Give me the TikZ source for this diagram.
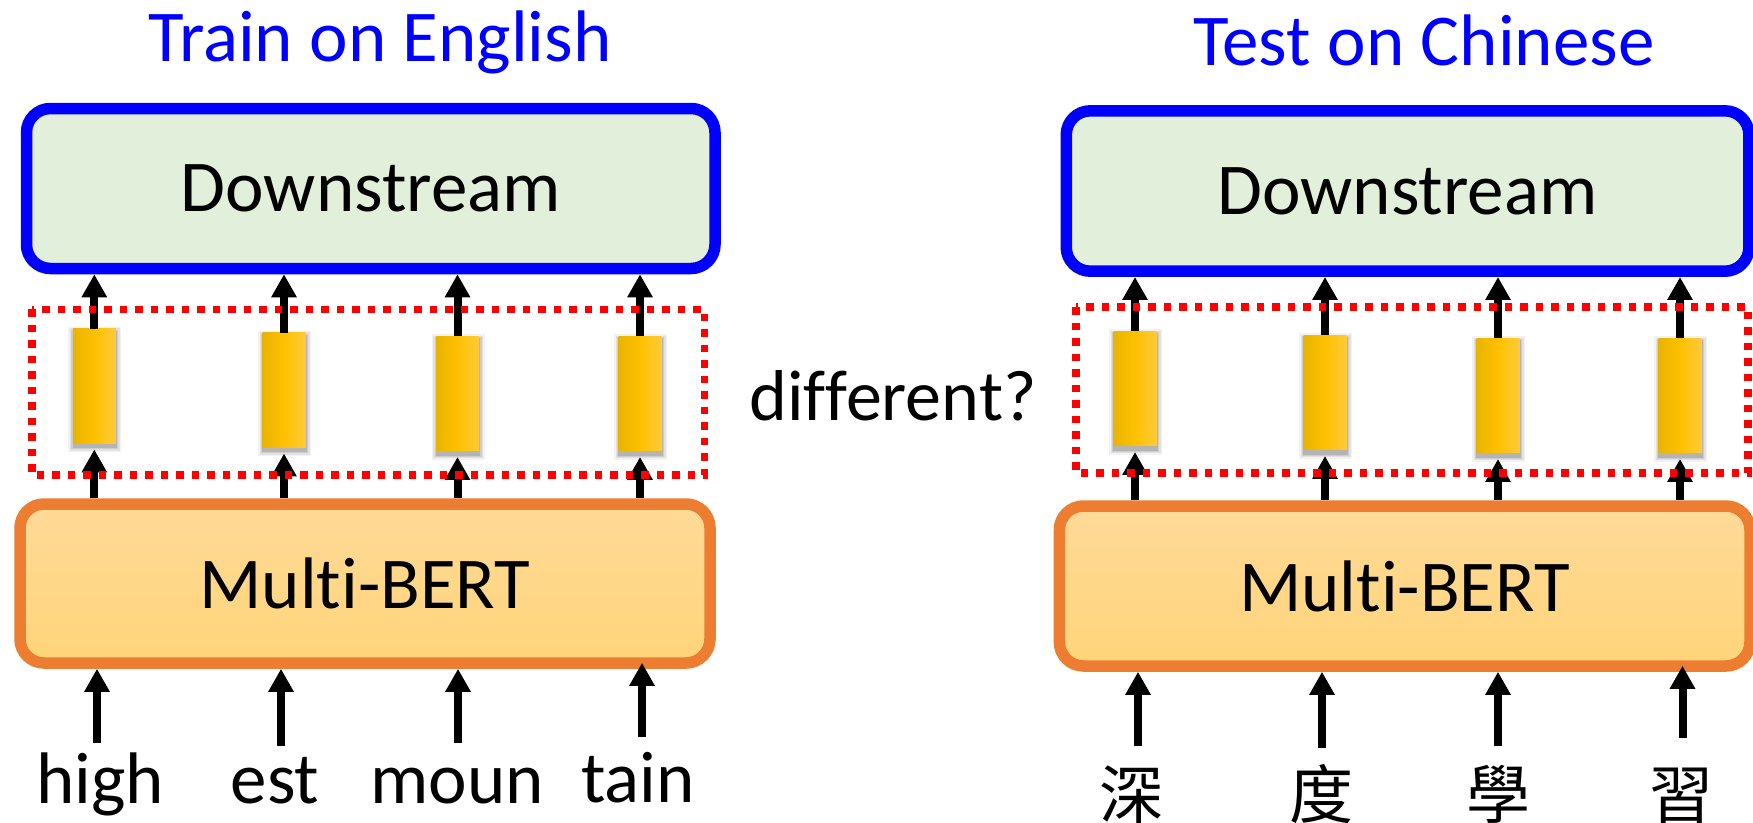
\documentclass[tikz,border=0pt]{standalone}
\usepackage{fontspec}
\setmainfont{Carlito}[Ligatures=NoCommon, RawFeature={-liga;-clig;-calt;-dlig}]
\newfontfamily\cjkfont{Noto Sans CJK TC}
\usetikzlibrary{arrows.meta,calc}

\definecolor{dsblue}{HTML}{0000FF}
\definecolor{dsfill}{HTML}{E2EFDA}
\definecolor{mborange}{HTML}{ED7D31}
\definecolor{mbtop}{HTML}{FFDA98}
\definecolor{mbbot}{HTML}{FFD479}
\definecolor{barL}{HTML}{E8B400}
\definecolor{barM}{HTML}{FFC000}
\definecolor{barR}{HTML}{FFCA3C}

\tikzset{
  big/.style={font=\fontsize{73}{88}\selectfont},
  dsbox/.style={draw=dsblue, fill=dsfill, line width=11.5pt, rounded corners=24pt,
    inner sep=0pt, big},
  mbbox/.style={draw=mborange, top color=mbtop, bottom color=mbbot, line width=11.5pt,
    rounded corners=24pt, inner sep=0pt, big},
  vecbar/.style={minimum width=43pt, minimum height=114.5pt, inner sep=0pt,
    left color=barL, right color=barR, middle color=barM},
  grpbox/.style={draw=red, line width=7.5pt, dash pattern=on 7.5pt off 8pt},
  arr/.style={line width=8pt, -{Triangle[width=24pt,length=23pt]}},
  word/.style={big, anchor=base, inner sep=0pt},
  heading/.style={big, text=dsblue, anchor=base, inner sep=0pt},
  cjkword/.style={anchor=base, inner sep=0pt, font=\fontsize{64}{70}\cjkfont},
}

% a yellow vector with its soft drop shadow: name, x, y
\newcommand\vecnode[3]{%
  \foreach \rr/\oo in {5/0.05,3.5/0.07,2/0.09,0.8/0.12}{%
    \fill[black,opacity=\oo] ({#2-21.5-\rr+0.5},{#3-57.25+3-\rr})
      rectangle ({#2+21.5+\rr+0.5},{#3+57.25+4+\rr});
  }
  \node[vecbar] (#1) at (#2,#3) {};
}

\begin{document}
\begin{tikzpicture}[x=1pt,y=-1pt]
\useasboundingbox (0,0) rectangle (1753,822);

% headings
\node[heading] (hl) at (380,61) {Train on English};
\node[heading] (hr) at (1424,65) {Test on Chinese};

% downstream models
\node[dsbox, minimum width=688.5pt, minimum height=160pt] (dsL) at (370.75,188.5) {Downstream};
\node[dsbox, minimum width=682.7pt, minimum height=160.4pt] (dsR) at (1407.6,191) {Downstream};

% Multi-BERT encoders
\node[mbbox, minimum width=690pt, minimum height=159pt] (mbL) at (365,583.5) {Mult\kern0pt i-BERT};
\node[mbbox, minimum width=690.6pt, minimum height=160pt] (mbR) at (1404.7,586) {Mult\kern0pt i-BERT};

% contextual vectors
\vecnode{vL1}{94.3}{386}
\vecnode{vL2}{284}{390}
\vecnode{vL3}{457.5}{393.5}
\vecnode{vL4}{640}{393.5}
\vecnode{vR1}{1135}{388.5}
\vecnode{vR2}{1325}{392.5}
\vecnode{vR3}{1498}{395.5}
\vecnode{vR4}{1680}{395.5}

% vectors feed the downstream model, encoder feeds the vectors
\foreach \s in {L,R}{
  \foreach \k in {1,2,3,4}{
    \draw[arr] (v\s\k.north) -- (v\s\k.north |- ds\s.south);
    \draw[arr] (v\s\k.south |- mb\s.north) -- ($(v\s\k.south)+(0,6)$);
  }
}

% input tokens
\node[word] (wL1) at (100,803) {high};
\node[word] (wL2) at (275,803) {est};
\node[word] (wL3) at (457,803) {moun};
\node[word] (wL4) at (638,802) {tain};
\node[cjkword] (wR1) at (1131,818) {深};
\node[cjkword] (wR2) at (1321.6,818) {度};
\node[cjkword] (wR3) at (1498,818) {學};
\node[cjkword] (wR4) at (1681,818) {習};

\coordinate (iL1) at (97,743);
\coordinate (iL2) at (281,746);
\coordinate (iL3) at (458,743);
\coordinate (iL4) at (642,737);
\coordinate (iR1) at (1138,746);
\coordinate (iR2) at (1322,748);
\coordinate (iR3) at (1498,746);
\coordinate (iR4) at (1682.5,738);
\foreach \s in {L,R}{
  \foreach \k in {1,2,3}{
    \draw[arr] (i\s\k) -- (i\s\k |- mb\s.south);
  }
  \draw[arr] (i\s4) -- ($(i\s4 |- mb\s.south)+(0,-6)$);
}

% dotted groups around the vectors
\draw[grpbox] (32,309.3) rectangle (704.5,475);
\draw[grpbox] (1076,307) rectangle (1748,473);

% question between the two settings
\node[word, font=\fontsize{72}{86}\selectfont] (q) at (893,420) {di\kern0pt f\kern0pt ferent?};
\end{tikzpicture}
\end{document}
